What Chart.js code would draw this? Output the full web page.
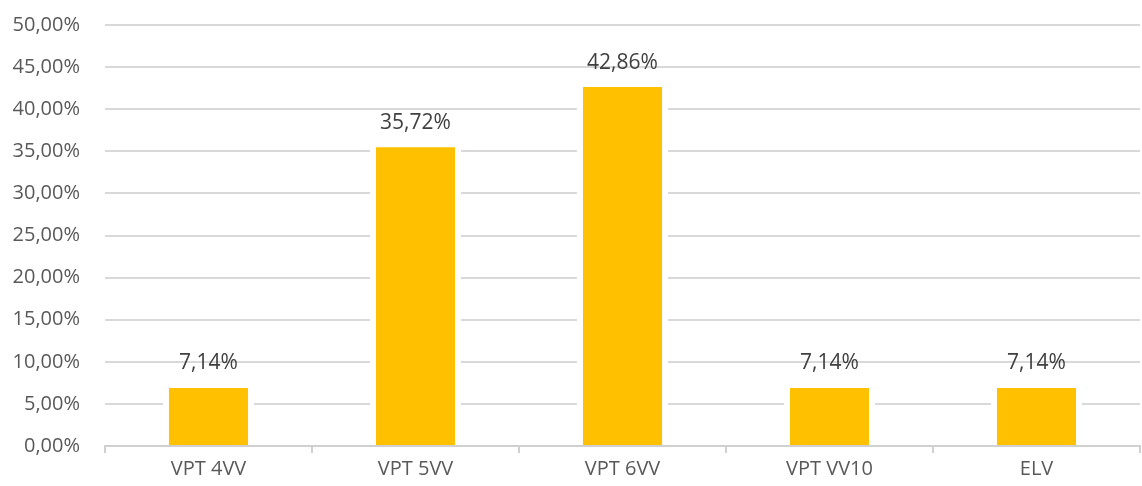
<!DOCTYPE html>
<html>
<head>
<meta charset="utf-8">
<script src="https://cdn.jsdelivr.net/npm/chart.js@4.4.1/dist/chart.umd.min.js"></script>
<style>
  html, body { margin: 0; padding: 0; background: #fff; }
  #wrap { width: 1142px; height: 486px; }
</style>
</head>
<body>
<div id="wrap"><canvas id="myChart"></canvas></div>
<script>
const categories = ['VPT 4VV', 'VPT 5VV', 'VPT 6VV', 'VPT VV10', 'ELV'];
const shares = [7.14, 35.72, 42.86, 7.14, 7.14];
const yTicks = [0, 5, 10, 15, 20, 25, 30, 35, 40, 45, 50];

function pct(v) {
    return v.toFixed(2).replace('.', ',') + '%';
}

// labels above the bars
const valueLabels = {
    id: 'valueLabels',
    afterDatasetsDraw(chart) {
        const ctx = chart.ctx;
        const meta = chart.getDatasetMeta(0);
        ctx.save();
        ctx.font = '21px "Open Sans"';
        ctx.fillStyle = '#404040';
        ctx.textAlign = 'center';
        ctx.textBaseline = 'bottom';
        meta.data.forEach(function(bar, i) {
            ctx.fillText(pct(shares[i]), bar.x, bar.y - 12);
        });
        ctx.restore();
    }
};

const ctx = document.getElementById('myChart').getContext('2d');
const myChart = new Chart(ctx, {
    type: 'bar',
    data: {
        labels: categories,
        datasets: [{
            data: shares,
            backgroundColor: '#FFC000',
            borderColor: '#ffffff',
            borderWidth: { left: 6, right: 6, top: 2, bottom: 0 },
            borderSkipped: false,
            barPercentage: 0.44,
            categoryPercentage: 1
        }]
    },
    options: {
        responsive: true,
        maintainAspectRatio: false,
        animation: false,
        layout: { padding: { top: 25, right: 2, left: 0, bottom: 0 } },
        plugins: {
            legend: { display: false },
            tooltip: { enabled: false }
        },
        scales: {
            x: {
                grid: {
                    offset: true,
                    drawOnChartArea: false,
                    drawTicks: true,
                    tickLength: 7,
                    color: '#d0d0d0',
                    lineWidth: 2
                },
                border: { display: true, color: '#d0d0d0', width: 2 },
                ticks: {
                    color: '#595959',
                    font: { family: 'Open Sans', size: 20 },
                    padding: 4,
                    maxRotation: 0
                },
                afterFit(axis) { axis.height = 40; }
            },
            y: {
                min: 0,
                max: 50,
                afterBuildTicks(axis) {
                    axis.ticks = yTicks.map(v => ({ value: v }));
                },
                grid: {
                    drawTicks: false,
                    color: '#d9d9d9',
                    lineWidth: 2
                },
                border: { display: false },
                ticks: {
                    color: '#595959',
                    font: { family: 'Open Sans', size: 20 },
                    padding: 25,
                    callback: v => pct(v)
                },
                afterFit(axis) {
                    axis.width = 105;
                    axis.paddingTop = 0;
                    axis.paddingBottom = 0;
                }
            }
        }
    },
    plugins: [valueLabels]
});
</script>
</body>
</html>
